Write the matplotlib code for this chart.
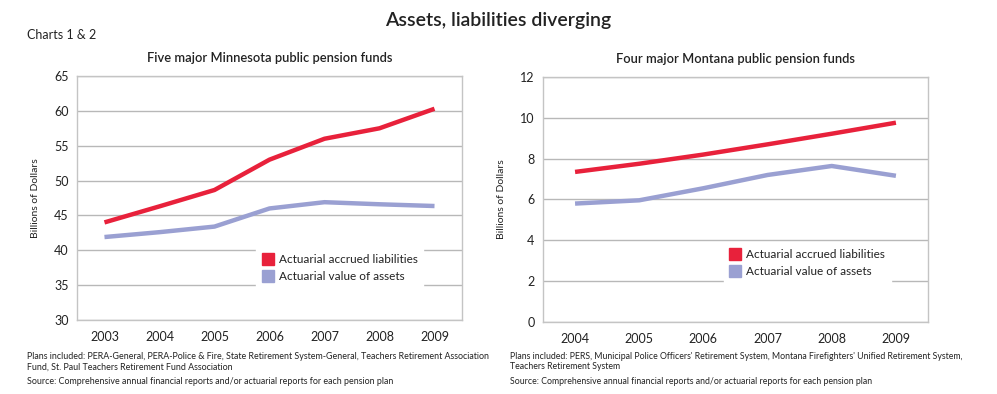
import matplotlib.pyplot as plt
from matplotlib.lines import Line2D

plt.rcParams['font.family'] = ['Lato', 'DejaVu Sans']

# Datos Minnesota
anios_mn = [2003, 2004, 2005, 2006, 2007, 2008, 2009]
pasivos_mn = [44.0, 46.3, 48.65, 53.0, 56.0, 57.5, 60.3]
activos_mn = [41.9, 42.6, 43.4, 46.0, 46.9, 46.6, 46.35]

# Datos Montana
anios_mt = [2004, 2005, 2006, 2007, 2008, 2009]
pasivos_mt = [7.35, 7.75, 8.2, 8.7, 9.22, 9.76]
activos_mt = [5.8, 5.96, 6.55, 7.2, 7.64, 7.16]

etiquetas = ['Actuarial accrued liabilities', 'Actuarial value of assets']
rojo = '#e8213b'
azul = '#9aa0d2'
gris = '#c4c4c4'
texto = '#222222'

fig = plt.figure(figsize=(9.97, 3.94), dpi=100)

ax1 = fig.add_axes([0.0772, 0.1878, 0.3862, 0.6193])
ax2 = fig.add_axes([0.5446, 0.1827, 0.3862, 0.6220])


def estilo(ax, anios, ylim, yticks):
    ax.set_xlim(anios[0] - 0.5, anios[-1] + 0.5)
    ax.set_ylim(*ylim)
    ax.set_xticks(anios)
    ax.set_yticks(yticks)
    ax.tick_params(length=0, labelsize=9, colors=texto)
    ax.tick_params(axis='x', pad=8)
    ax.tick_params(axis='y', pad=6)
    ax.grid(axis='y', color='#b8b8b8', linewidth=1)
    ax.set_axisbelow(True)
    for s in ax.spines.values():
        s.set_color(gris)
        s.set_linewidth(1)
    ax.set_ylabel('Billions of Dollars', fontsize=7.5, color=texto, labelpad=10)


estilo(ax1, anios_mn, (30, 65), range(30, 66, 5))
estilo(ax2, anios_mt, (0, 12), range(0, 13, 2))

ax1.plot(anios_mn, pasivos_mn, color=rojo, lw=3.2, solid_capstyle='butt')
ax1.plot(anios_mn, activos_mn, color=azul, lw=3.2, solid_capstyle='butt')
ax2.plot(anios_mt, pasivos_mt, color=rojo, lw=3.2, solid_capstyle='butt')
ax2.plot(anios_mt, activos_mt, color=azul, lw=3.2, solid_capstyle='butt')

manijas = [Line2D([], [], ls='none', marker='s', markersize=8, color=rojo),
           Line2D([], [], ls='none', marker='s', markersize=8, color=azul)]

for ax, pos in [(ax1, (0.45, 0.107)), (ax2, (0.454, 0.135))]:
    leg = ax.legend(manijas, etiquetas, loc='lower left', bbox_to_anchor=pos,
                    frameon=True, fancybox=False, framealpha=1, edgecolor='white',
                    fontsize=8.5, handletextpad=0.4, labelspacing=0.5,
                    borderpad=0.5, handlelength=1.0, labelcolor=texto)

ax1.set_title('Five major Minnesota public pension funds', fontsize=9.3, color=texto,
              pad=10, fontweight='semibold')
ax2.set_title('Four major Montana public pension funds', fontsize=9.3, color=texto,
              pad=10, fontweight='semibold')

fig.text(0.5, 0.948, 'Assets, liabilities diverging', ha='center', va='center',
         fontsize=14, color=texto, fontweight='semibold')
fig.text(0.027, 0.91, 'Charts 1 & 2', ha='left', va='center', fontsize=9, color=texto)

fig.text(0.027, 0.082, 'Plans included: PERA-General, PERA-Police & Fire, State Retirement System-General, '
         'Teachers Retirement Association\nFund, St. Paul Teachers Retirement Fund Association',
         ha='left', va='center', fontsize=6.4, color=texto, linespacing=1.2)
fig.text(0.027, 0.031, 'Source: Comprehensive annual financial reports and/or actuarial reports for each pension plan',
         ha='left', va='center', fontsize=6.4, color=texto)

fig.text(0.512, 0.082, "Plans included: PERS, Municipal Police Officers' Retirement System, "
         "Montana Firefighters' Unified Retirement System,\nTeachers Retirement System",
         ha='left', va='center', fontsize=6.3, color=texto, linespacing=1.2)
fig.text(0.512, 0.031, 'Source: Comprehensive annual financial reports and/or actuarial reports for each pension plan',
         ha='left', va='center', fontsize=6.3, color=texto)

fig.savefig('out.png', dpi=100)
